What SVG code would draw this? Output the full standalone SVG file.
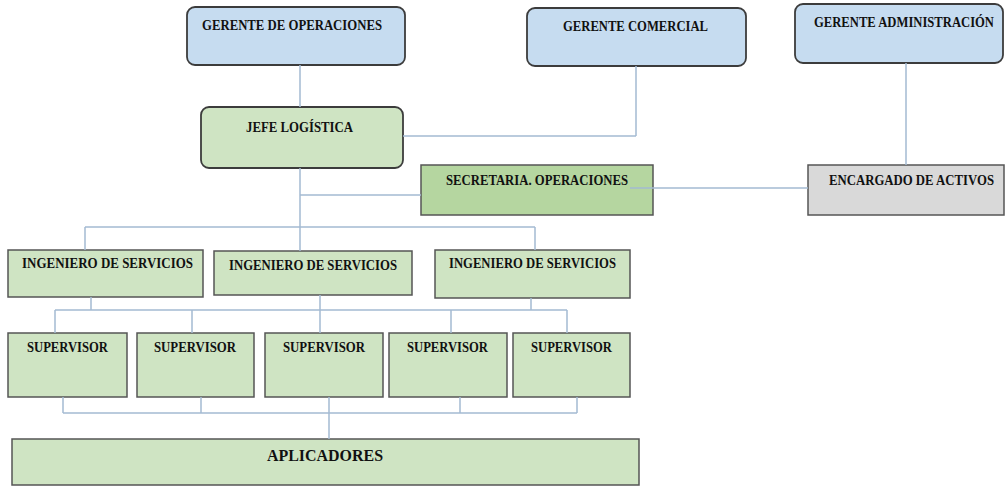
<svg xmlns="http://www.w3.org/2000/svg" width="1005" height="487" viewBox="0 0 1005 487">
<style>
.rb{fill:#c6dcf0;stroke:#3c3c3c;stroke-width:1.8}
.rg{fill:#cfe4c3;stroke:#3c3c3c;stroke-width:1.8}
.g{fill:#cfe4c3;stroke:#555;stroke-width:1.5}
.sec{fill:#b5d6a0;stroke:#555;stroke-width:1.5}
.gr{fill:#d9d9d9;stroke:#555;stroke-width:1.5}
text{font-family:"Liberation Serif","Times New Roman","DejaVu Serif",serif;font-weight:bold;font-size:14px;fill:#111}
.big{font-size:17px}
#connectors line{stroke:#a3bad2;stroke-width:1.5;fill:none}
</style>
<rect width="1005" height="487" fill="#fff"/>
<g id="gerente-operaciones"><rect class="rb" x="187" y="7" width="218" height="58" rx="8"/><text x="202" y="30" textLength="180" lengthAdjust="spacingAndGlyphs">GERENTE DE OPERACIONES</text></g>
<g id="gerente-comercial"><rect class="rb" x="527" y="8" width="219" height="58" rx="8"/><text x="563" y="31" textLength="145" lengthAdjust="spacingAndGlyphs">GERENTE COMERCIAL</text></g>
<g id="gerente-administracion"><rect class="rb" x="795" y="4" width="208" height="59" rx="8"/><text x="814" y="27" textLength="180" lengthAdjust="spacingAndGlyphs">GERENTE ADMINISTRACIÓN</text></g>
<g id="jefe-logistica"><rect class="rg" x="201" y="107" width="202" height="61" rx="8"/><text x="246" y="132" textLength="107" lengthAdjust="spacingAndGlyphs">JEFE LOGÍSTICA</text></g>
<g id="secretaria"><rect class="sec" x="421" y="165" width="232" height="50"/><text x="446" y="185" textLength="182" lengthAdjust="spacingAndGlyphs">SECRETARIA. OPERACIONES</text></g>
<g id="encargado"><rect class="gr" x="808" y="165" width="196" height="50"/><text x="829" y="185" textLength="165" lengthAdjust="spacingAndGlyphs">ENCARGADO DE ACTIVOS</text></g>
<g id="ingeniero-1"><rect class="g" x="8" y="250" width="195" height="47"/><text x="22" y="268" textLength="171" lengthAdjust="spacingAndGlyphs">INGENIERO DE SERVICIOS</text></g>
<g id="ingeniero-2"><rect class="g" x="214" y="251" width="198" height="44"/><text x="229" y="270" textLength="168" lengthAdjust="spacingAndGlyphs">INGENIERO DE SERVICIOS</text></g>
<g id="ingeniero-3"><rect class="g" x="435" y="250" width="195" height="48"/><text x="449" y="268" textLength="167" lengthAdjust="spacingAndGlyphs">INGENIERO DE SERVICIOS</text></g>
<g id="supervisor-1"><rect class="g" x="8" y="333" width="119" height="64"/><text x="27" y="352" textLength="81" lengthAdjust="spacingAndGlyphs">SUPERVISOR</text></g>
<g id="supervisor-2"><rect class="g" x="137" y="333" width="117" height="64"/><text x="154" y="352" textLength="82" lengthAdjust="spacingAndGlyphs">SUPERVISOR</text></g>
<g id="supervisor-3"><rect class="g" x="265" y="333" width="118" height="64"/><text x="283" y="352" textLength="82" lengthAdjust="spacingAndGlyphs">SUPERVISOR</text></g>
<g id="supervisor-4"><rect class="g" x="389" y="333" width="118" height="64"/><text x="407" y="352" textLength="81" lengthAdjust="spacingAndGlyphs">SUPERVISOR</text></g>
<g id="supervisor-5"><rect class="g" x="513" y="333" width="117" height="64"/><text x="531" y="352" textLength="81" lengthAdjust="spacingAndGlyphs">SUPERVISOR</text></g>
<g id="aplicadores"><rect class="g" x="12" y="439" width="627" height="46"/><text class="big" x="267" y="461" textLength="116" lengthAdjust="spacingAndGlyphs">APLICADORES</text></g>
<g id="connectors">
<line x1="300" y1="65" x2="300" y2="107"/>
<line x1="636" y1="66" x2="636" y2="136"/>
<line x1="403" y1="136" x2="636" y2="136"/>
<line x1="906" y1="63" x2="906" y2="165"/>
<line x1="630" y1="188" x2="808" y2="188"/>
<line x1="300" y1="168" x2="300" y2="251"/>
<line x1="300" y1="195" x2="421" y2="195"/>
<line x1="85" y1="227" x2="535" y2="227"/>
<line x1="85" y1="227" x2="85" y2="250"/>
<line x1="535" y1="227" x2="535" y2="250"/>
<line x1="91" y1="297" x2="91" y2="310"/>
<line x1="531" y1="298" x2="531" y2="310"/>
<line x1="320" y1="295" x2="320" y2="333"/>
<line x1="55" y1="310" x2="567" y2="310"/>
<line x1="55" y1="310" x2="55" y2="333"/>
<line x1="192" y1="310" x2="192" y2="333"/>
<line x1="451" y1="310" x2="451" y2="333"/>
<line x1="567" y1="310" x2="567" y2="333"/>
<line x1="63" y1="397" x2="63" y2="413"/>
<line x1="201" y1="397" x2="201" y2="413"/>
<line x1="460" y1="397" x2="460" y2="413"/>
<line x1="577" y1="397" x2="577" y2="413"/>
<line x1="63" y1="413" x2="577" y2="413"/>
<line x1="329" y1="397" x2="329" y2="439"/>
</g>
</svg>
